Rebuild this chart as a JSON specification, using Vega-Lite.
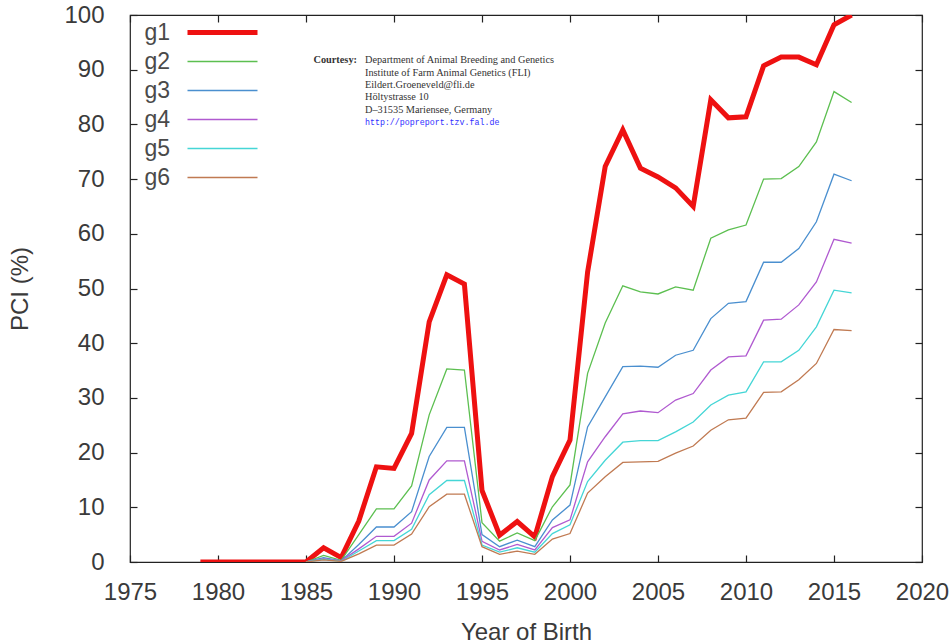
{
  "$schema": "https://vega.github.io/schema/vega-lite/v6.json",
  "width": 792,
  "height": 547,
  "autosize": {"type": "none"},
  "padding": {"left": 130, "top": 15, "right": 29, "bottom": 81},
  "background": "white",
  "config": {
    "view": {"stroke": "#222", "strokeWidth": 1.2},
    "font": "Liberation Sans",
    "axis": {"grid": false, "domain": false, "tickColor": "#222", "tickSize": -7, "tickWidth": 1.2, "labelFlush": false, "labelOverlap": false, "labelFont": "Liberation Sans", "labelFontSize": 24, "labelColor": "#3a3a3a", "titleFont": "Liberation Sans", "titleFontSize": 24, "titleColor": "#3a3a3a", "titleFontWeight": "normal"}
  },
  "datasets": {
    "pci": [
      {"year": 1979, "g1": 0, "g2": null, "g3": null, "g4": null, "g5": null, "g6": null},
      {"year": 1980, "g1": 0, "g2": null, "g3": null, "g4": null, "g5": null, "g6": null},
      {"year": 1981, "g1": 0, "g2": null, "g3": null, "g4": null, "g5": null, "g6": null},
      {"year": 1982, "g1": 0, "g2": null, "g3": null, "g4": null, "g5": null, "g6": null},
      {"year": 1983, "g1": 0, "g2": null, "g3": null, "g4": null, "g5": null, "g6": null},
      {"year": 1984, "g1": 0, "g2": null, "g3": null, "g4": null, "g5": null, "g6": null},
      {"year": 1985, "g1": 0, "g2": 0, "g3": 0, "g4": 0, "g5": 0, "g6": 0},
      {"year": 1986, "g1": 2.6, "g2": 1.2, "g3": 0.8, "g4": 0.6, "g5": 0.5, "g6": 0.4},
      {"year": 1987, "g1": 0.8, "g2": 0.3, "g3": 0.2, "g4": 0.2, "g5": 0.1, "g6": 0.1},
      {"year": 1988, "g1": 7.5, "g2": 5, "g3": 3.2, "g4": 2.4, "g5": 2, "g6": 1.5},
      {"year": 1989, "g1": 17.4, "g2": 9.7, "g3": 6.4, "g4": 4.7, "g5": 3.9, "g6": 3.1},
      {"year": 1990, "g1": 17.1, "g2": 9.7, "g3": 6.4, "g4": 4.7, "g5": 3.9, "g6": 3.1},
      {"year": 1991, "g1": 23.5, "g2": 13.9, "g3": 9.2, "g4": 7.1, "g5": 6.0, "g6": 5.1},
      {"year": 1992, "g1": 43.9, "g2": 26.9, "g3": 19.3, "g4": 15.0, "g5": 12.3, "g6": 10.1},
      {"year": 1993, "g1": 52.5, "g2": 35.3, "g3": 24.6, "g4": 18.5, "g5": 14.9, "g6": 12.4},
      {"year": 1994, "g1": 50.8, "g2": 35.1, "g3": 24.6, "g4": 18.5, "g5": 14.9, "g6": 12.4},
      {"year": 1995, "g1": 13.1, "g2": 7.2, "g3": 5.0, "g4": 3.8, "g5": 3.1, "g6": 2.8},
      {"year": 1996, "g1": 4.9, "g2": 3.8, "g3": 2.8, "g4": 2.2, "g5": 1.8, "g6": 1.4},
      {"year": 1997, "g1": 7.4, "g2": 5.3, "g3": 4.0, "g4": 3.2, "g5": 2.6, "g6": 2.0},
      {"year": 1998, "g1": 4.6, "g2": 3.9, "g3": 2.8, "g4": 2.2, "g5": 1.8, "g6": 1.4},
      {"year": 1999, "g1": 15.6, "g2": 10.1, "g3": 7.7, "g4": 6.3, "g5": 5.2, "g6": 4.2},
      {"year": 2000, "g1": 22.3, "g2": 14.1, "g3": 10.4, "g4": 7.7, "g5": 6.8, "g6": 5.2},
      {"year": 2001, "g1": 53, "g2": 34.5, "g3": 24.7, "g4": 18.3, "g5": 14.7, "g6": 12.6},
      {"year": 2002, "g1": 72.3, "g2": 43.7, "g3": 30.2, "g4": 22.9, "g5": 18.6, "g6": 15.6},
      {"year": 2003, "g1": 79, "g2": 50.5, "g3": 35.7, "g4": 27.1, "g5": 21.9, "g6": 18.2},
      {"year": 2004, "g1": 72, "g2": 49.4, "g3": 35.8, "g4": 27.6, "g5": 22.2, "g6": 18.3},
      {"year": 2005, "g1": 70.4, "g2": 49, "g3": 35.6, "g4": 27.3, "g5": 22.2, "g6": 18.4},
      {"year": 2006, "g1": 68.4, "g2": 50.3, "g3": 37.8, "g4": 29.6, "g5": 23.8, "g6": 19.9},
      {"year": 2007, "g1": 65, "g2": 49.7, "g3": 38.7, "g4": 30.8, "g5": 25.6, "g6": 21.2},
      {"year": 2008, "g1": 84.5, "g2": 59.2, "g3": 44.5, "g4": 35.1, "g5": 28.7, "g6": 24.1},
      {"year": 2009, "g1": 81.2, "g2": 60.7, "g3": 47.3, "g4": 37.5, "g5": 30.5, "g6": 26},
      {"year": 2010, "g1": 81.4, "g2": 61.6, "g3": 47.6, "g4": 37.7, "g5": 31.1, "g6": 26.3},
      {"year": 2011, "g1": 90.7, "g2": 70, "g3": 54.8, "g4": 44.2, "g5": 36.6, "g6": 31},
      {"year": 2012, "g1": 92.3, "g2": 70.1, "g3": 54.8, "g4": 44.4, "g5": 36.6, "g6": 31.1},
      {"year": 2013, "g1": 92.3, "g2": 72.3, "g3": 57.3, "g4": 47, "g5": 38.7, "g6": 33.3},
      {"year": 2014, "g1": 90.9, "g2": 76.8, "g3": 62.2, "g4": 51.2, "g5": 43, "g6": 36.3},
      {"year": 2015, "g1": 98.2, "g2": 86, "g3": 70.9, "g4": 59, "g5": 49.7, "g6": 42.5},
      {"year": 2016, "g1": 100, "g2": 84, "g3": 69.7, "g4": 58.3, "g5": 49.2, "g6": 42.3}
    ]
  },
  "resolve": {"axis": {"x": "independent", "y": "independent"}},
  "layer": [
    {
      "data": {"name": "pci"},
      "transform": [{"fold": ["g1", "g2", "g3", "g4", "g5", "g6"], "as": ["series", "pci"]}],
      "mark": {"type": "line", "strokeJoin": "miter", "clip": true},
      "encoding": {
        "x": {"field": "year", "type": "quantitative", "scale": {"domain": [1975, 2020], "nice": false, "zero": false},
              "axis": {"values": [1975, 1980, 1985, 1990, 1995, 2000, 2005, 2010, 2015, 2020], "format": "d", "title": "Year of Birth", "labelPadding": 25, "titlePadding": 16}},
        "y": {"field": "pci", "type": "quantitative", "scale": {"domain": [0, 100], "nice": false},
              "axis": {"values": [0, 10, 20, 30, 40, 50, 60, 70, 80, 90, 100], "title": "PCI (%)", "labelPadding": 33, "titlePadding": 31}},
        "color": {"field": "series", "type": "nominal",
                  "scale": {"domain": ["g1", "g2", "g3", "g4", "g5", "g6"], "range": ["#ee1111", "#5cbf50", "#4a8fcf", "#b05ad0", "#45d6d6", "#c07a52"]},
                  "legend": {"orient": "none", "legendX": 81, "legendY": 6, "title": null, "symbolType": "M-5,0H5", "symbolSize": 196, "symbolFillColor": "transparent", "labelFontSize": 23, "labelColor": "#4a4a4a", "labelFont": "Liberation Sans", "labelAlign": "right", "labelOffset": -64, "rowPadding": 5, "padding": 0}},
        "strokeWidth": {"field": "series", "type": "nominal",
                  "scale": {"type": "ordinal", "domain": ["g1", "g2", "g3", "g4", "g5", "g6"], "range": [5, 1.3, 1.3, 1.3, 1.3, 1.3]},
                  "legend": {"orient": "none", "legendX": 81, "legendY": 6, "title": null, "symbolType": "M-5,0H5", "symbolSize": 196, "symbolFillColor": "transparent", "labelFontSize": 23, "labelColor": "#4a4a4a", "labelFont": "Liberation Sans", "labelAlign": "right", "labelOffset": -64, "rowPadding": 5, "padding": 0}},
        "order": {"field": "year", "type": "quantitative"}
      }
    },
    {
      "data": {"name": "pci"},
      "mark": {"type": "line", "opacity": 0},
      "encoding": {
        "x": {"field": "year", "type": "quantitative", "axis": {"orient": "top", "values": [1975, 1980, 1985, 1990, 1995, 2000, 2005, 2010, 2015, 2020], "labels": false, "title": null}},
        "y": {"field": "g1", "type": "quantitative", "axis": {"orient": "right", "values": [0, 10, 20, 30, 40, 50, 60, 70, 80, 90, 100], "labels": false, "title": null}}
      }
    },
    {
      "data": {"values": [{"label": "Courtesy:"}]},
      "mark": {"type": "text", "align": "right", "baseline": "top", "font": "Liberation Serif", "fontSize": 10.3, "fontWeight": "bold", "color": "#333", "dx": -8},
      "encoding": {
        "x": {"datum": 1988.35, "type": "quantitative", "axis": null},
        "y": {"datum": 92.6, "type": "quantitative", "axis": null},
        "text": {"field": "label"}
      }
    },
    {
      "data": {"values": [{"label": ["Department of Animal Breeding and Genetics", "Institute of Farm Animal Genetics (FLI)", "Eildert.Groeneveld@fli.de", "Höltystrasse 10", "D–31535 Mariensee, Germany"]}]},
      "mark": {"type": "text", "align": "left", "baseline": "top", "font": "Liberation Serif", "fontSize": 10.3, "lineHeight": 12.3, "color": "#333"},
      "encoding": {
        "x": {"datum": 1988.35, "type": "quantitative", "axis": null},
        "y": {"datum": 92.6, "type": "quantitative", "axis": null},
        "text": {"field": "label"}
      }
    },
    {
      "data": {"values": [{"label": "http://popreport.tzv.fal.de"}]},
      "mark": {"type": "text", "align": "left", "baseline": "top", "font": "Liberation Mono", "fontSize": 8.3, "color": "#3030ff"},
      "encoding": {
        "x": {"datum": 1988.35, "type": "quantitative", "axis": null},
        "y": {"datum": 81.2, "type": "quantitative", "axis": null},
        "text": {"field": "label"}
      }
    }
  ]
}
